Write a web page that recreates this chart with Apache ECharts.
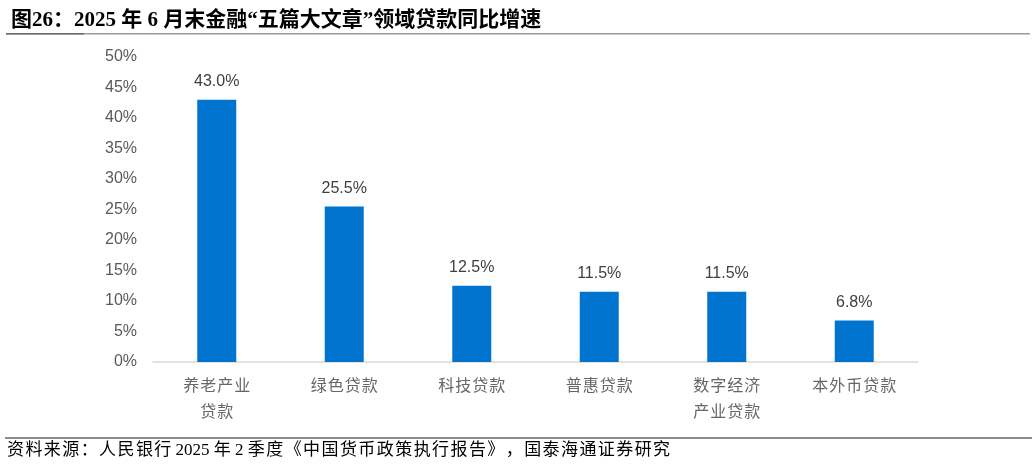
<!DOCTYPE html>
<html>
<head>
<meta charset="utf-8">
<script src="https://cdn.jsdelivr.net/npm/echarts@6/dist/echarts.min.js"></script>
<style>
  html, body { margin: 0; padding: 0; background: #fff; }
  #chart { width: 1032px; height: 465px; }
</style>
</head>
<body>
<div id="chart"></div>
<script>
// 数据
const categories = ["养老产业\n贷款", "绿色贷款", "科技贷款", "普惠贷款", "数字经济\n产业贷款", "本外币贷款"];
const growth = [43.0, 25.5, 12.5, 11.5, 11.5, 6.8];
const titleText = "图26：2025 年 6 月末金融“五篇大文章”领域贷款同比增速";
const sourceText = "资料来源：人民银行 2025 年 2 季度《中国货币政策执行报告》，国泰海通证券研究";

const serif = "'Liberation Serif', 'Noto Sans CJK SC', serif";
const sans = "'Liberation Sans', Arial, sans-serif";

// 只在中文字符之间加细空格
function spaced(s) {
  return s.replace(/([^\x00-\x7f])(?=[^\x00-\x7f])/g, "$1\u200a");
}

const chart = echarts.init(document.getElementById("chart"));

chart.setOption({
  animation: false,
  title: {
    text: titleText,
    left: 6,
    top: 5,
    textStyle: { fontFamily: serif, fontSize: 21, fontWeight: "bold", color: "#000" },
  },
  graphic: [
    { type: "rect", shape: { x: 6, y: 33, width: 1024, height: 1.5 }, style: { fill: "#9a9a9a" } },
    { type: "rect", shape: { x: 6, y: 33, width: 78, height: 1.5 }, style: { fill: "#6a6a6a" } },
    { type: "rect", shape: { x: 5, y: 437, width: 1027, height: 2 }, style: { fill: "#8c8c8c" } },
    {
      type: "text",
      left: 7,
      top: 442,
      style: { text: spaced(sourceText), font: "17px " + serif, fill: "#000" },
    },
  ],
  grid: { left: 153, right: 114, top: 57, bottom: 103 },
  xAxis: {
    type: "category",
    data: categories,
    axisTick: { show: false },
    axisLine: { lineStyle: { color: "#d9d9d9", width: 1.5 } },
    axisLabel: {
      color: "#666",
      fontFamily: "'Noto Sans CJK SC', serif",
      fontSize: 16,
      lineHeight: 26,
      margin: 10,
      interval: 0,
      formatter: (v) => v.split("\n").map(spaced).join("\n"),
    },
  },
  yAxis: {
    type: "value",
    min: 0,
    max: 50,
    interval: 5,
    splitLine: { show: false },
    axisLine: { show: false },
    axisTick: { show: false },
    axisLabel: {
      formatter: "{value}%",
      color: "#595959",
      fontFamily: sans,
      fontSize: 16,
      margin: 16,
    },
  },
  series: [
    {
      type: "bar",
      data: growth,
      barWidth: 39,
      itemStyle: { color: "#0074CF" },
      label: {
        show: true,
        position: "top",
        distance: 10,
        formatter: (p) => p.value.toFixed(1) + "%",
        color: "#404040",
        fontFamily: sans,
        fontSize: 16,
      },
    },
  ],
});
</script>
</body>
</html>
